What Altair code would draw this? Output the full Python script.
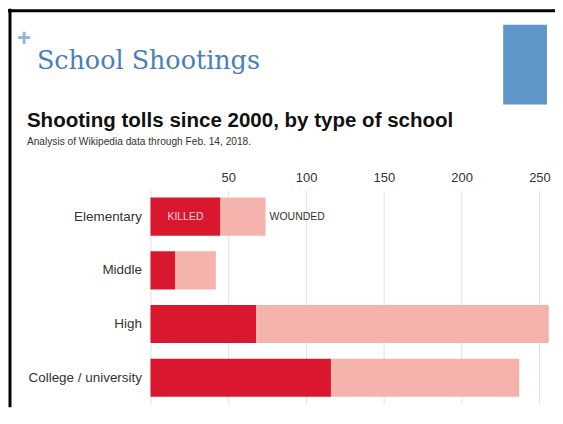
import altair as alt
import pandas as pd

schools = ["Elementary", "Middle", "High", "College / university"]
killed = [45, 16, 68, 116]
wounded = [29, 26, 188, 121]
x_ticks = [0, 50, 100, 150, 200, 250]

rows = []
for s, k, w in zip(schools, killed, wounded):
    rows.append({"school": s, "type": "Killed", "value": k, "order": 0})
    rows.append({"school": s, "type": "Wounded", "value": w, "order": 1})
df = pd.DataFrame(rows)

ann_df = pd.DataFrame({
    "school": [schools[0]],
    "zero": [0],
    "total": [killed[0] + wounded[0]],
})

W, H = 406, 215
PL, PT, PB = 143, 182, 3

x_scale = alt.Scale(domain=[0, 260], nice=False, zero=True)
y_scale = alt.Scale(domain=schools, paddingInner=0.29, paddingOuter=0.14)
SANS = "Liberation Sans"

bars = alt.Chart(df).mark_bar().encode(
    y=alt.Y("school:N", sort=schools, scale=y_scale,
            axis=alt.Axis(title=None, ticks=False, domain=False, grid=False,
                          labelPadding=9, labelFontSize=13.5, labelColor="#333",
                          labelFont=SANS)),
    x=alt.X("value:Q", stack="zero", scale=x_scale,
            axis=alt.Axis(orient="top", values=x_ticks, title=None, ticks=False,
                          domain=False, labelExpr="datum.value == 0 ? '' : datum.label",
                          labelPadding=6, labelFontSize=13, labelColor="#333",
                          labelFont=SANS, gridColor="#e2e2e2", gridWidth=1)),
    color=alt.Color("type:N", scale=alt.Scale(domain=["Killed", "Wounded"],
                                              range=["#d9182f", "#f5b3ad"]),
                    legend=None),
    order=alt.Order("order:Q"),
)

killed_lbl = alt.Chart(ann_df).mark_text(
    align="left", baseline="middle", dx=17, fontSize=10.5, font=SANS, color="#f7d0d0"
).encode(
    x=alt.X("zero:Q", scale=x_scale),
    y=alt.Y("school:N", sort=schools, scale=y_scale),
    text=alt.value("KILLED"),
)

wounded_lbl = alt.Chart(ann_df).mark_text(
    align="left", baseline="middle", dx=4, fontSize=10.5, font=SANS, color="#333"
).encode(
    x=alt.X("total:Q", scale=x_scale),
    y=alt.Y("school:N", sort=schools, scale=y_scale),
    text=alt.value("WOUNDED"),
)

deco = alt.Chart(pd.DataFrame({"a": [0]}))

plus = deco.mark_text(align="center", baseline="middle", fontSize=24,
                      fontWeight="bold", font=SANS, color="#93b3de").encode(
    x=alt.value(-127), y=alt.value(-152), text=alt.value("+"))

slide_title = deco.mark_text(align="left", baseline="alphabetic", fontSize=25.5,
                             font="DejaVu Serif", color="#4a7ebb").encode(
    x=alt.value(-114), y=alt.value(-122), text=alt.value("School Shootings"))

blue_rect = deco.mark_rect(color="#6096c9").encode(
    x=alt.value(354), x2=alt.value(398), y=alt.value(-166), y2=alt.value(-86))

chart_title = deco.mark_text(align="left", baseline="alphabetic", fontSize=20.6,
                             fontWeight="bold", font=SANS, color="#111").encode(
    x=alt.value(-124), y=alt.value(-63),
    text=alt.value("Shooting tolls since 2000, by type of school"))

subtitle = deco.mark_text(align="left", baseline="alphabetic", fontSize=10.2,
                          font=SANS, color="#333").encode(
    x=alt.value(-124), y=alt.value(-45),
    text=alt.value("Analysis of Wikipedia data through Feb. 14, 2018."))

left_border = deco.mark_rule(color="black", strokeWidth=3).encode(
    x=alt.value(-141), y=alt.value(-182), y2=alt.value(H + PB))

top_border = deco.mark_rule(color="black", strokeWidth=3).encode(
    y=alt.value(-180), x=alt.value(-143), x2=alt.value(W))

chart = alt.layer(
    bars, killed_lbl, wounded_lbl, plus, slide_title, blue_rect,
    chart_title, subtitle, left_border, top_border
).properties(
    width=W, height=H,
    autosize=alt.AutoSizeParams(type="none"),
    padding={"left": PL, "top": PT, "right": 0, "bottom": PB},
).configure_view(stroke=None)

chart.save("out.html", embed_options={"renderer": "svg", "actions": False})
